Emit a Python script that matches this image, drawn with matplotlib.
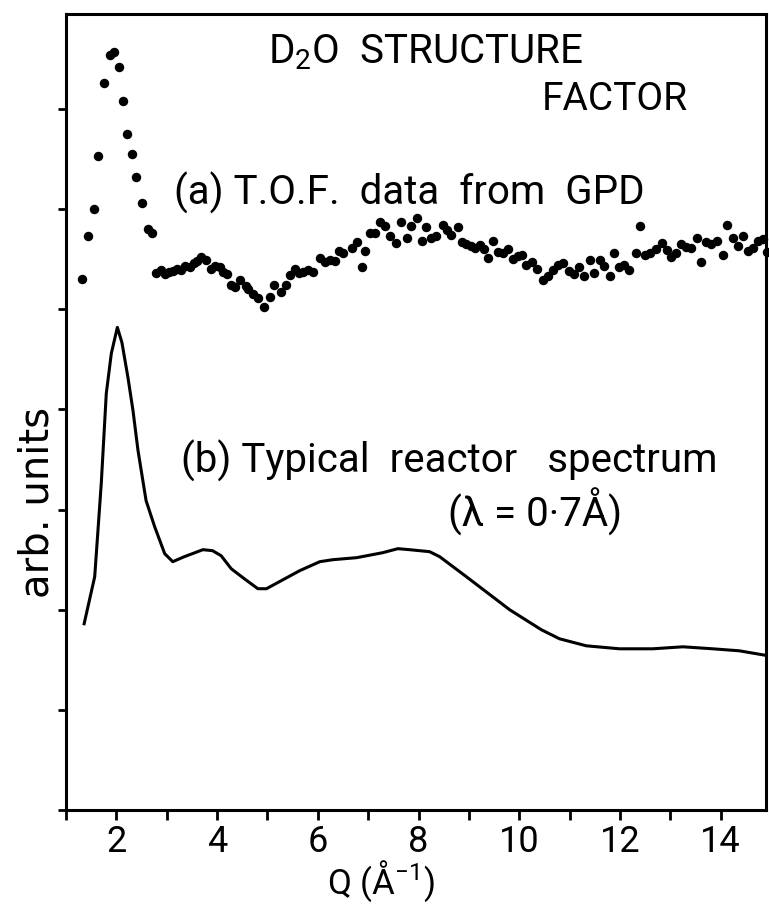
import matplotlib
matplotlib.use("Agg")
import matplotlib.pyplot as plt
from matplotlib.ticker import MultipleLocator, NullFormatter

FONT = ['Roboto', 'DejaVu Sans']
plt.rcParams['font.family'] = FONT
plt.rcParams['mathtext.fontset'] = 'custom'
plt.rcParams['mathtext.rm'] = 'Roboto'

# (a) T.O.F. data from GPD
q_tof = [1.32, 1.43, 1.55, 1.63, 1.75, 1.87, 1.96, 2.05, 2.14, 2.21, 2.32, 2.39,
         2.51, 2.63, 2.70, 2.78, 2.88, 2.96, 3.05, 3.13, 3.21, 3.29, 3.37, 3.46,
         3.54, 3.60, 3.69, 3.78, 3.87, 3.95, 4.05, 4.12, 4.20, 4.27, 4.35, 4.45,
         4.57, 4.62, 4.71, 4.81, 4.93, 5.06, 5.14, 5.26, 5.36, 5.44, 5.54, 5.63,
         5.71, 5.81, 5.90, 6.04, 6.14, 6.24, 6.34, 6.43, 6.51, 6.67, 6.77, 6.87,
         6.93, 7.03, 7.13, 7.24, 7.33, 7.44, 7.56, 7.66, 7.77, 7.86, 7.96, 8.06,
         8.15, 8.25, 8.35, 8.48, 8.56, 8.65, 8.78, 8.87, 8.95, 9.05, 9.13, 9.23,
         9.31, 9.38, 9.48, 9.58, 9.67, 9.77, 9.87, 9.97, 10.06, 10.14, 10.26,
         10.35, 10.47, 10.57, 10.67, 10.77, 10.87, 10.98, 11.08, 11.18, 11.28,
         11.41, 11.49, 11.61, 11.69, 11.81, 11.89, 11.98, 12.09, 12.17, 12.31,
         12.39, 12.49, 12.59, 12.72, 12.84, 12.93, 13.02, 13.12, 13.21, 13.31,
         13.41, 13.52, 13.61, 13.71, 13.81, 13.92, 14.05, 14.13, 14.24, 14.34,
         14.44, 14.54, 14.64, 14.74, 14.84, 14.92]
s_tof = [5.30, 5.73, 6.00, 6.53, 7.26, 7.54, 7.57, 7.42, 7.08, 6.75, 6.55, 6.32,
         6.06, 5.80, 5.76, 5.36, 5.39, 5.35, 5.37, 5.38, 5.40, 5.39, 5.43, 5.42,
         5.46, 5.48, 5.52, 5.49, 5.40, 5.43, 5.42, 5.37, 5.35, 5.24, 5.22, 5.29,
         5.23, 5.20, 5.15, 5.11, 5.02, 5.12, 5.24, 5.17, 5.24, 5.34, 5.40, 5.36,
         5.37, 5.39, 5.37, 5.51, 5.47, 5.49, 5.48, 5.58, 5.56, 5.61, 5.67, 5.42,
         5.58, 5.76, 5.76, 5.87, 5.83, 5.73, 5.66, 5.87, 5.71, 5.83, 5.91, 5.68,
         5.82, 5.71, 5.73, 5.84, 5.79, 5.74, 5.82, 5.67, 5.65, 5.63, 5.61, 5.64,
         5.60, 5.51, 5.68, 5.57, 5.56, 5.60, 5.50, 5.53, 5.54, 5.44, 5.47,
         5.40, 5.29, 5.33, 5.39, 5.44, 5.46, 5.38, 5.35, 5.42, 5.33,
         5.49, 5.36, 5.49, 5.43, 5.33, 5.56, 5.42, 5.44, 5.39, 5.56,
         5.83, 5.54, 5.56, 5.60, 5.66, 5.59, 5.52, 5.56, 5.65, 5.62,
         5.61, 5.71, 5.47, 5.67, 5.65, 5.68, 5.54, 5.84, 5.71, 5.63,
         5.73, 5.58, 5.61, 5.68, 5.70, 5.57]

# (b) Typical reactor spectrum
q_reac = [1.36, 1.57, 1.70, 1.80, 1.90, 2.02, 2.11, 2.23, 2.33, 2.43, 2.59, 2.76,
          2.96, 3.12, 3.35, 3.72, 3.91, 4.08, 4.28, 4.54, 4.81, 4.98, 5.31, 5.64,
          6.04, 6.30, 6.77, 7.29, 7.59, 7.82, 8.22, 8.42, 8.95, 9.81, 10.44,
          10.80, 11.33, 11.99, 12.65, 13.25, 13.84, 14.37, 14.95]
s_reac = [1.86, 2.33, 3.26, 4.16, 4.56, 4.82, 4.67, 4.32, 3.99, 3.59, 3.09, 2.83,
          2.56, 2.48, 2.53, 2.60, 2.59, 2.54, 2.41, 2.31, 2.21, 2.21, 2.30, 2.39,
          2.48, 2.50, 2.52, 2.57, 2.61, 2.60, 2.58, 2.53, 2.33, 2.00, 1.80,
          1.71, 1.64, 1.61, 1.61, 1.63, 1.61, 1.59, 1.54]

fig = plt.figure(figsize=(7.69, 9.05), dpi=100)
ax = fig.add_axes([66 / 769, 95 / 905, 700 / 769, 796 / 905])

ax.plot(q_tof, s_tof, 'o', color='black', ms=5.8, clip_on=False)
ax.plot(q_reac, s_reac, '-', color='black', lw=2.2)

ax.set_xlim(1.0, 14.9)
ax.set_ylim(0, 7.95)

ax.xaxis.set_major_locator(MultipleLocator(2))
ax.xaxis.set_minor_locator(MultipleLocator(1))
ax.yaxis.set_major_locator(MultipleLocator(1))
ax.yaxis.set_major_formatter(NullFormatter())
ax.tick_params(axis='x', which='both', direction='out', length=7, width=2,
               labelsize=26, pad=3)
ax.tick_params(axis='y', which='major', direction='out', length=6, width=2)
for sp in ax.spines.values():
    sp.set_linewidth(2.2)

ax.text(5.01, 7.46, r'D$_\mathregular{2}$O  STRUCTURE', fontsize=29)
ax.text(10.44, 6.99, 'FACTOR', fontsize=28)
ax.text(3.14, 6.05, '(a) T.O.F.  data  from  GPD', fontsize=29)
ax.text(3.28, 3.37, '(b) Typical  reactor   spectrum', fontsize=29)
ax.text(8.58, 2.83, '(λ = 0·7Å)', fontsize=29)

ax.text(-0.041, 0.387, 'arb. units', transform=ax.transAxes, rotation=90,
        ha='center', va='center', fontsize=29, family='DejaVu Sans')
ax.text(0.45, -0.106, r'Q (Å$^{\mathregular{-1}}$)', transform=ax.transAxes,
        ha='center', va='baseline', fontsize=25)

fig.savefig('out.png', dpi=100)
